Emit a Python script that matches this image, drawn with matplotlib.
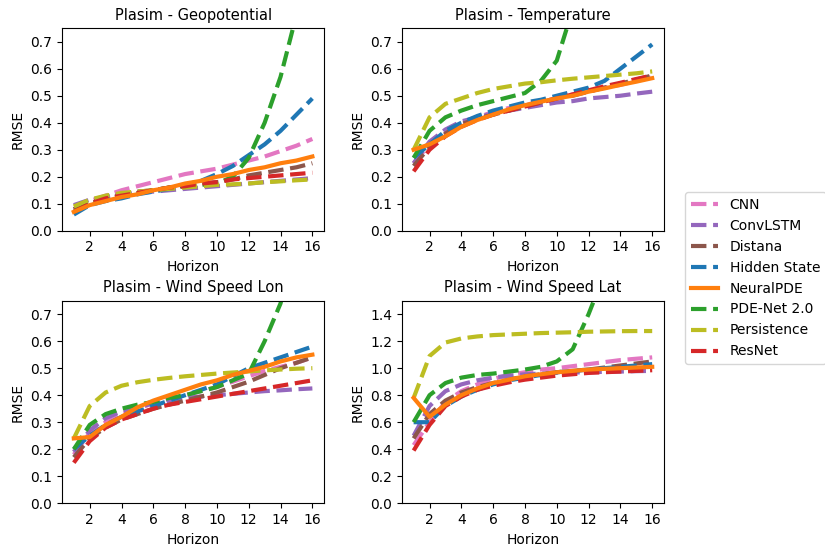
import matplotlib
matplotlib.use("Agg")
import matplotlib.pyplot as plt
import numpy as np

# horizons 1..16
horizon = np.arange(1, 17)

models = ["CNN", "ConvLSTM", "Distana", "Hidden State", "NeuralPDE",
          "PDE-Net 2.0", "Persistence", "ResNet"]
colors = ["tab:pink", "tab:purple", "tab:brown", "tab:blue", "tab:orange",
          "tab:green", "tab:olive", "tab:red"]

# Plasim - Geopotential
geo_cnn = [0.08, 0.11, 0.13, 0.15, 0.165, 0.18, 0.195, 0.21, 0.22, 0.23, 0.245, 0.26, 0.275, 0.295, 0.315, 0.34]
geo_convlstm = [0.095, 0.115, 0.125, 0.135, 0.14, 0.145, 0.15, 0.155, 0.16, 0.165, 0.17, 0.175, 0.18, 0.185, 0.19, 0.195]
geo_distana = [0.08, 0.105, 0.12, 0.135, 0.145, 0.15, 0.16, 0.165, 0.175, 0.18, 0.19, 0.205, 0.215, 0.225, 0.235, 0.25]
geo_hidden = [0.06, 0.095, 0.11, 0.12, 0.135, 0.145, 0.155, 0.17, 0.185, 0.21, 0.24, 0.28, 0.32, 0.37, 0.43, 0.49]
geo_neuralpde = [0.07, 0.095, 0.11, 0.125, 0.135, 0.15, 0.16, 0.175, 0.185, 0.2, 0.21, 0.225, 0.235, 0.25, 0.26, 0.275]
geo_pdenet = [0.07, 0.1, 0.12, 0.13, 0.14, 0.15, 0.16, 0.165, 0.17, 0.175, 0.2, 0.27, 0.4, 0.57, 0.8, 1.1]
geo_persist = [0.09, 0.115, 0.13, 0.14, 0.145, 0.15, 0.155, 0.16, 0.165, 0.17, 0.172, 0.175, 0.18, 0.183, 0.187, 0.19]
geo_resnet = [0.07, 0.1, 0.12, 0.13, 0.14, 0.15, 0.16, 0.165, 0.175, 0.18, 0.19, 0.195, 0.2, 0.205, 0.21, 0.215]

# Plasim - Temperature
tmp_cnn = [0.25, 0.32, 0.37, 0.40, 0.42, 0.44, 0.455, 0.465, 0.48, 0.49, 0.505, 0.515, 0.53, 0.54, 0.555, 0.57]
tmp_convlstm = [0.25, 0.33, 0.375, 0.405, 0.42, 0.435, 0.445, 0.455, 0.465, 0.475, 0.48, 0.49, 0.495, 0.5, 0.508, 0.515]
tmp_distana = [0.24, 0.31, 0.36, 0.395, 0.415, 0.43, 0.445, 0.46, 0.475, 0.49, 0.5, 0.515, 0.53, 0.545, 0.56, 0.575]
tmp_hidden = [0.27, 0.32, 0.37, 0.40, 0.425, 0.445, 0.46, 0.475, 0.485, 0.5, 0.515, 0.53, 0.555, 0.6, 0.645, 0.69]
tmp_neuralpde = [0.30, 0.32, 0.35, 0.385, 0.41, 0.43, 0.45, 0.465, 0.478, 0.49, 0.5, 0.515, 0.527, 0.54, 0.552, 0.565]
tmp_pdenet = [0.27, 0.37, 0.42, 0.445, 0.465, 0.48, 0.495, 0.51, 0.555, 0.63, 0.82, 1.0, 1.2, 1.4, 1.6, 1.8]
tmp_persist = [0.30, 0.42, 0.47, 0.49, 0.51, 0.525, 0.535, 0.545, 0.55, 0.557, 0.563, 0.568, 0.573, 0.578, 0.583, 0.59]
tmp_resnet = [0.22, 0.30, 0.35, 0.385, 0.41, 0.43, 0.445, 0.46, 0.475, 0.49, 0.505, 0.52, 0.535, 0.548, 0.562, 0.575]

# Plasim - Wind Speed Lon
lon_cnn = [0.18, 0.26, 0.30, 0.33, 0.35, 0.37, 0.385, 0.4, 0.415, 0.43, 0.45, 0.47, 0.49, 0.505, 0.52, 0.54]
lon_convlstm = [0.19, 0.27, 0.315, 0.34, 0.355, 0.37, 0.38, 0.39, 0.395, 0.4, 0.405, 0.41, 0.415, 0.418, 0.422, 0.425]
lon_distana = [0.17, 0.24, 0.28, 0.31, 0.33, 0.35, 0.365, 0.38, 0.395, 0.41, 0.43, 0.45, 0.475, 0.5, 0.52, 0.54]
lon_hidden = [0.20, 0.25, 0.29, 0.32, 0.34, 0.36, 0.38, 0.40, 0.42, 0.44, 0.47, 0.50, 0.52, 0.54, 0.56, 0.58]
lon_neuralpde = [0.24, 0.245, 0.29, 0.32, 0.355, 0.38, 0.40, 0.42, 0.44, 0.455, 0.475, 0.49, 0.505, 0.525, 0.54, 0.55]
lon_pdenet = [0.20, 0.29, 0.33, 0.35, 0.365, 0.375, 0.39, 0.40, 0.415, 0.43, 0.455, 0.48, 0.6, 0.74, 1.0, 1.3]
lon_persist = [0.24, 0.36, 0.41, 0.435, 0.448, 0.457, 0.464, 0.47, 0.475, 0.48, 0.484, 0.488, 0.492, 0.495, 0.498, 0.50]
lon_resnet = [0.15, 0.23, 0.28, 0.31, 0.33, 0.35, 0.365, 0.375, 0.385, 0.395, 0.405, 0.415, 0.425, 0.435, 0.445, 0.455]

# Plasim - Wind Speed Lat
lat_cnn = [0.43, 0.60, 0.75, 0.83, 0.88, 0.92, 0.95, 0.97, 0.99, 1.0, 1.015, 1.03, 1.045, 1.06, 1.07, 1.08]
lat_convlstm = [0.50, 0.72, 0.83, 0.88, 0.91, 0.93, 0.945, 0.955, 0.96, 0.965, 0.968, 0.97, 0.973, 0.975, 0.978, 0.98]
lat_distana = [0.48, 0.66, 0.76, 0.82, 0.86, 0.89, 0.915, 0.94, 0.955, 0.97, 0.98, 0.99, 1.005, 1.02, 1.035, 1.05]
lat_hidden = [0.60, 0.60, 0.72, 0.79, 0.84, 0.88, 0.91, 0.93, 0.95, 0.97, 0.98, 0.99, 1.0, 1.01, 1.02, 1.03]
lat_neuralpde = [0.78, 0.64, 0.73, 0.80, 0.85, 0.89, 0.915, 0.94, 0.955, 0.97, 0.98, 0.99, 0.995, 1.0, 1.005, 1.01]
lat_pdenet = [0.60, 0.80, 0.89, 0.93, 0.95, 0.96, 0.975, 0.99, 1.01, 1.05, 1.14, 1.4, 1.7, 2.0, 2.3, 2.6]
lat_persist = [0.78, 1.09, 1.19, 1.22, 1.235, 1.245, 1.25, 1.255, 1.26, 1.263, 1.266, 1.27, 1.272, 1.274, 1.275, 1.275]
lat_resnet = [0.39, 0.58, 0.72, 0.79, 0.84, 0.87, 0.895, 0.915, 0.93, 0.945, 0.955, 0.965, 0.97, 0.975, 0.98, 0.985]

panels = [
    ("Plasim - Geopotential", 0.75, 0.1,
     [geo_cnn, geo_convlstm, geo_distana, geo_hidden, geo_neuralpde, geo_pdenet, geo_persist, geo_resnet]),
    ("Plasim - Temperature", 0.75, 0.1,
     [tmp_cnn, tmp_convlstm, tmp_distana, tmp_hidden, tmp_neuralpde, tmp_pdenet, tmp_persist, tmp_resnet]),
    ("Plasim - Wind Speed Lon", 0.75, 0.1,
     [lon_cnn, lon_convlstm, lon_distana, lon_hidden, lon_neuralpde, lon_pdenet, lon_persist, lon_resnet]),
    ("Plasim - Wind Speed Lat", 1.5, 0.2,
     [lat_cnn, lat_convlstm, lat_distana, lat_hidden, lat_neuralpde, lat_pdenet, lat_persist, lat_resnet]),
]

plt.rcParams["font.size"] = 10

fig, axes = plt.subplots(2, 2, figsize=(8.25, 5.53), dpi=100)
fig.subplots_adjust(left=0.075, right=0.805, top=0.949, bottom=0.090,
                    wspace=0.295, hspace=0.345)

for ax, (title, ymax, ystep, series) in zip(axes.flat, panels):
    for name, col, vals in zip(models, colors, series):
        if name == "NeuralPDE":
            ax.plot(horizon, vals, "-", color=col, lw=3, label=name, zorder=3)
        else:
            ax.plot(horizon, vals, "--", color=col, lw=3, label=name)
    ax.set_ylim(0, ymax)
    ax.set_yticks(np.arange(0, ymax + 1e-9, ystep))
    ax.set_xticks([2, 4, 6, 8, 10, 12, 14, 16])
    ax.set_title(title, fontsize=10.5)
    ax.set_xlabel("Horizon")
    ax.set_ylabel("RMSE")

handles, labels = axes[0, 0].get_legend_handles_labels()
fig.legend(handles, labels, loc="upper left", bbox_to_anchor=(0.822, 0.665))

fig.savefig("out.png")
